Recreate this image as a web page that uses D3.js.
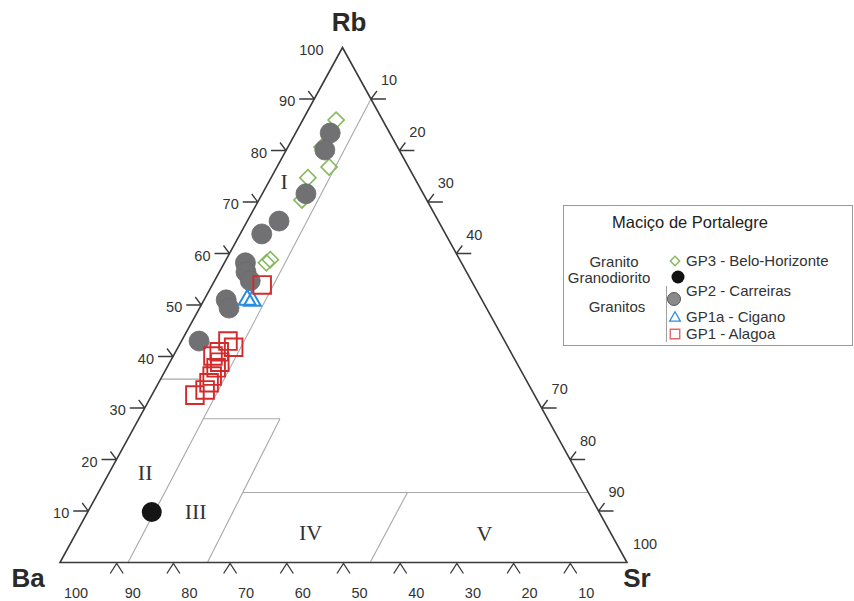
<!DOCTYPE html>
<html>
<head>
<meta charset="utf-8">
<script src="https://cdn.jsdelivr.net/npm/d3@7"></script>
<style>
  html, body { margin: 0; padding: 0; background: #fff; }
  svg { display: block; font-family: Arial, "Liberation Sans", sans-serif; }
</style>
</head>
<body>
<div id="chart"></div>
<script>
// Rb–Ba–Sr ternary diagram, values in percent as [Rb, Ba, Sr]
const gp3BeloHorizonte = [
  [85.9, 8.2, 5.9], [80.7, 13.3, 6.0], [76.8, 14.0, 9.2], [74.7, 18.8, 6.5],
  [70.4, 22.0, 7.6], [58.2, 34.4, 7.4], [58.8, 33.4, 7.8]
];
const gp2Carreiras = [
  [83.4, 10.5, 6.1], [80.1, 13.1, 6.8], [71.6, 20.7, 7.7], [66.3, 28.1, 5.6],
  [63.8, 32.4, 3.8], [58.2, 38.1, 3.7], [56.4, 38.9, 4.7], [54.7, 39.0, 6.3],
  [51.0, 45.1, 3.9], [49.4, 45.4, 5.2], [43.0, 53.9, 3.1]
];
const granodiorito = [[9.8, 78.9, 11.3]];
const gp1aCigano = [[51.0, 41.4, 7.6], [50.8, 40.6, 8.6]];
const gp1Alagoa = [
  [53.9, 37.3, 8.8], [43.0, 48.8, 8.2], [41.8, 48.4, 9.8], [40.9, 51.4, 7.7],
  [40.1, 52.9, 7.0], [38.9, 52.3, 8.8], [37.8, 53.5, 8.7], [36.2, 55.0, 8.8],
  [34.9, 56.2, 8.9], [33.5, 57.6, 8.9], [32.5, 59.9, 7.6]
];

// field boundaries (Rb, Ba, Sr)
const fieldLines = [
  [[90, 0, 10], [0, 88, 12]],
  [[35.6, 64.4, 0], [35.6, 57.5, 6.9]],
  [[27.9, 60.7, 11.4], [27.9, 47.2, 24.9]],
  [[27.9, 47.2, 24.9], [0, 74, 26]],
  [[13.6, 60.9, 25.5], [13.6, 0, 86.4]],
  [[13.6, 31.9, 54.5], [0, 45.3, 54.7]]
];
const fieldNames = ["I", "II", "III", "IV", "V"];
const fieldNameAt = [[74.1, 23.3, 2.6], [17.5, 76.2, 6.3], [9.9, 71.1, 19.0], [5.8, 52.9, 41.3], [5.7, 22.3, 72.0]];

// axis ticks and labels
const rbTicks = [10, 20, 30, 40, 50, 60, 70, 80, 90];
const rbLabels = [10, 20, 30, 40, 50, 60, 70, 80, 90, 100];
const srTicks = [10, 20, 30, 40, 70, 80, 90];
const srLabels = [10, 20, 30, 40, 70, 80, 90, 100];
const baTicks = [90, 80, 70, 60, 50, 40, 30, 20, 10];
const baLabels = [100, 90, 80, 70, 60, 50, 40, 30, 20, 10];

const legendTitle = "Maciço de Portalegre";

const W = 854, H = 601;
const svg = d3.select("#chart").append("svg").attr("width", W).attr("height", H);

// triangle frame: base from Ba (left) to Sr (right), Rb at apex
const baseLeft = 60, baseRight = 627, baseY = 562.5, apexX = 342.5, apexY = 47.5;
const y = d3.scaleLinear().domain([0, 100]).range([baseY, apexY]);      // Rb
const x = d3.scaleLinear().domain([0, 100]).range([baseLeft, baseRight]); // Sr along the base

function project(p) {
  const t = p[0] + p[1] + p[2];
  const rb = p[0] / t * 100, sr = p[2] / t * 100;
  return [x(sr) + (apexX - baseLeft) * rb / 100, y(rb)];
}

const frameColor = "#3a3a3a";
const tickColor = "#3a3a3a";
const labelColor = "#333";

// field boundaries
const line = d3.line();
svg.append("g").selectAll("path").data(fieldLines).join("path")
  .attr("d", d => line(d.map(project)))
  .attr("fill", "none").attr("stroke", "#a8a8a8").attr("stroke-width", 1.1);

// triangle outline
svg.append("path")
  .attr("d", line([project([100, 0, 0]), project([0, 100, 0]), project([0, 0, 100])]) + "Z")
  .attr("fill", "none").attr("stroke", frameColor).attr("stroke-width", 1.6)
  .attr("stroke-linejoin", "miter");

// Rb ticks on the left edge: arrow pointing at the edge
const gTicks = svg.append("g").attr("stroke", tickColor).attr("stroke-width", 1.3).attr("fill", "none");
rbTicks.forEach(v => {
  const [px, py] = project([v, 100 - v, 0]);
  gTicks.append("path").attr("d", `M${px - 15},${py}L${px},${py}M${px - 6},${py - 8}L${px},${py}`);
});
// Sr ticks on the right edge
srTicks.forEach(v => {
  const [px, py] = project([100 - v, 0, v]);
  gTicks.append("path").attr("d", `M${px + 15},${py}L${px},${py}M${px + 6},${py - 8}L${px},${py}`);
});
// Ba ticks on the base: caret under the line
baTicks.forEach(v => {
  const [px, py] = project([0, v, 100 - v]);
  gTicks.append("path").attr("d", `M${px - 6.5},${py + 11}L${px},${py + 1}L${px + 6.5},${py + 11}`);
});

// tick labels
const gLab = svg.append("g").attr("font-size", 14.5).attr("fill", labelColor);
rbLabels.forEach(v => {
  const [px, py] = project([v, 100 - v, 0]);
  gLab.append("text").attr("x", px - 19).attr("y", py + 2).attr("dy", "0.35em")
    .attr("text-anchor", "end").text(v);
});
srLabels.forEach(v => {
  const [px, py] = project([100 - v, 0, v]);
  gLab.append("text").attr("x", px + 18).attr("y", py - 19).attr("dy", "0.35em")
    .attr("text-anchor", "middle").text(v);
});
baLabels.forEach(v => {
  const [px, py] = project([0, v, 100 - v]);
  gLab.append("text").attr("x", px + 16).attr("y", py + 30).attr("dy", "0.35em")
    .attr("text-anchor", "middle").text(v);
});

// corner titles
const gTitle = svg.append("g").attr("font-weight", "bold").attr("font-size", 26).attr("fill", "#2a2a2a");
gTitle.append("text").attr("x", 349).attr("y", 31).attr("text-anchor", "middle").text("Rb");
gTitle.append("text").attr("x", 28).attr("y", 587).attr("text-anchor", "middle").text("Ba");
gTitle.append("text").attr("x", 637).attr("y", 587).attr("text-anchor", "middle").text("Sr");

// field names
svg.append("g").attr("font-family", "'Liberation Serif', 'Times New Roman', serif")
  .attr("font-size", 22).attr("fill", "#333")
  .selectAll("text").data(fieldNames).join("text")
  .attr("x", (d, i) => project(fieldNameAt[i])[0])
  .attr("y", (d, i) => project(fieldNameAt[i])[1])
  .attr("dy", "0.35em").attr("text-anchor", "middle").text(d => d);

// sample points
const gPts = svg.append("g");
gPts.selectAll(".gp3").data(gp3BeloHorizonte).join("path").attr("class", "gp3")
  .attr("d", d3.symbol().type(d3.symbolSquare).size(130))
  .attr("transform", d => `translate(${project(d)}) rotate(45)`)
  .attr("fill", "none").attr("stroke", "#86b85c").attr("stroke-width", 1.6);

gPts.selectAll(".gp2").data(gp2Carreiras).join("circle").attr("class", "gp2")
  .attr("cx", d => project(d)[0]).attr("cy", d => project(d)[1]).attr("r", 10)
  .attr("fill", "#717173").attr("stroke", "#6a6a6c").attr("stroke-width", 0.8);

gPts.selectAll(".gd").data(granodiorito).join("circle").attr("class", "gd")
  .attr("cx", d => project(d)[0]).attr("cy", d => project(d)[1]).attr("r", 10)
  .attr("fill", "#151515");

gPts.selectAll(".gp1a").data(gp1aCigano).join("path").attr("class", "gp1a")
  .attr("d", d3.symbol().type(d3.symbolTriangle).size(125))
  .attr("transform", d => `translate(${project(d)})`)
  .attr("fill", "none").attr("stroke", "#2a8ee0").attr("stroke-width", 2);

gPts.selectAll(".gp1").data(gp1Alagoa).join("path").attr("class", "gp1")
  .attr("d", d3.symbol().type(d3.symbolSquare).size(310))
  .attr("transform", d => `translate(${project(d)})`)
  .attr("fill", "none").attr("stroke", "#d22b2b").attr("stroke-width", 1.9);

// legend
const lg = svg.append("g");
lg.append("rect").attr("x", 563.5).attr("y", 205.5).attr("width", 289).attr("height", 140)
  .attr("fill", "#fff").attr("stroke", "#9a9a9a").attr("stroke-width", 1);
lg.append("text").attr("x", 690).attr("y", 228).attr("text-anchor", "middle")
  .attr("font-size", 16.5).attr("fill", "#222").text(legendTitle);

const lgText = lg.append("g").attr("font-size", 15).attr("fill", "#333").style("white-space", "pre");
lgText.append("text").attr("x", 614).attr("y", 262).attr("dy", "0.35em").attr("text-anchor", "middle").text("Granito");
lgText.append("text").attr("x", 609).attr("y", 278).attr("dy", "0.35em").attr("text-anchor", "middle").text("Granodiorito");
lgText.append("text").attr("x", 617).attr("y", 307).attr("dy", "0.35em").attr("text-anchor", "middle").text("Granitos");

lg.append("line").attr("x1", 666.5).attr("x2", 666.5).attr("y1", 286).attr("y2", 342)
  .attr("stroke", "#a0a0a0").attr("stroke-width", 1);

lg.append("path").attr("d", d3.symbol().type(d3.symbolSquare).size(44))
  .attr("transform", "translate(675,261) rotate(45)")
  .attr("fill", "none").attr("stroke", "#86b85c").attr("stroke-width", 1.4);
lg.append("circle").attr("cx", 678).attr("cy", 277).attr("r", 6.5).attr("fill", "#111");
lg.append("circle").attr("cx", 674).attr("cy", 299).attr("r", 6.5).attr("fill", "#8a8a8c").attr("stroke", "#555").attr("stroke-width", 1);
lg.append("path").attr("d", d3.symbol().type(d3.symbolTriangle).size(50))
  .attr("transform", "translate(675,318)")
  .attr("fill", "none").attr("stroke", "#2a8ee0").attr("stroke-width", 1.3);
lg.append("path").attr("d", d3.symbol().type(d3.symbolSquare).size(90))
  .attr("transform", "translate(675,334)")
  .attr("fill", "none").attr("stroke", "#e06a6a").attr("stroke-width", 1.4);

lgText.append("text").attr("x", 686).attr("y", 261).attr("dy", "0.35em").text("GP3 - Belo-Horizonte");
lgText.append("text").attr("x", 686).attr("y", 291).attr("dy", "0.35em").text("GP2  - Carreiras");
lgText.append("text").attr("x", 686).attr("y", 317).attr("dy", "0.35em").text("GP1a  - Cigano");
lgText.append("text").attr("x", 686).attr("y", 334).attr("dy", "0.35em").text("GP1 - Alagoa");
</script>
</body>
</html>
